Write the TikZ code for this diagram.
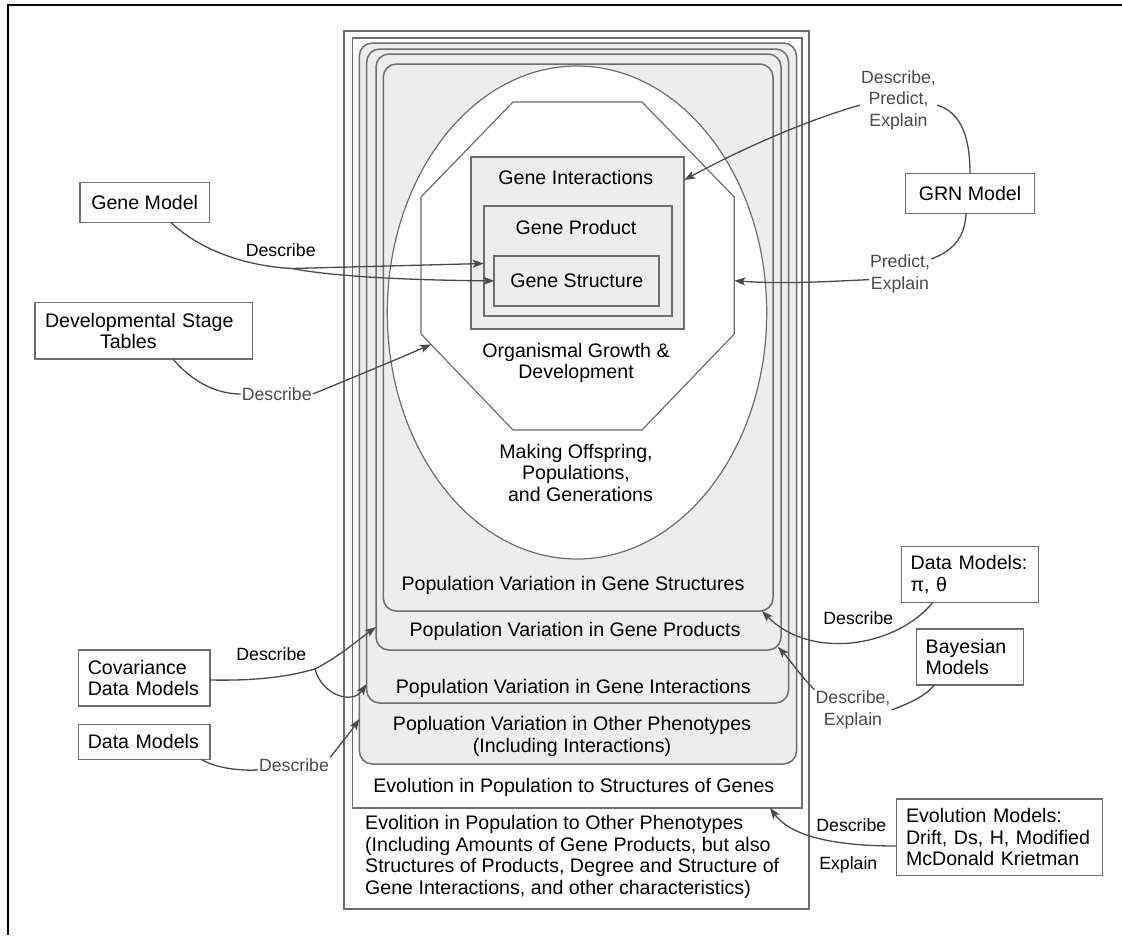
\documentclass[tikz,border=0pt]{standalone}
\usepackage{fontspec}
\setmainfont{Liberation Sans}
\usetikzlibrary{shapes.geometric,arrows.meta}
\definecolor{edge}{HTML}{6E6E6E}
\definecolor{shade}{HTML}{EDEDED}
\definecolor{wire}{HTML}{4A4A4A}
\definecolor{note}{HTML}{4A4A4A}
\tikzset{
  big/.style={font=\fontsize{19.6}{21.5}\selectfont},
  txt/.style={big, inner sep=0pt, anchor=base},
  shell/.style={draw=edge, line width=1.5pt, inner sep=0pt, outer sep=0pt, rectangle},
  roundshell/.style={shell, fill=shade, rounded corners=13pt},
  genebox/.style={draw=edge, line width=1.8pt, fill=shade, inner sep=0pt, outer sep=0pt},
  sbox/.style={draw=edge, line width=1.4pt, fill=white, big, inner sep=0pt, outer sep=0pt},
  onecap/.style={text height=14pt, text depth=0pt},
  lab/.style={font=\fontsize{17.7}{21.6}\selectfont, inner sep=1pt, anchor=base},
  labdark/.style={lab, text=black},
  labgray/.style={lab, text=note},
  wire/.style={draw=wire, line width=1.3pt},
  tip/.style={wire, -{Stealth[length=11pt,width=8pt,inset=2.5pt]}},
}
\begin{document}
\begin{tikzpicture}[x=1pt,y=-1pt]
\useasboundingbox (0,0) rectangle (1122,935);
\fill[white] (0,0) rectangle (1122,935);
% page frame
\draw[black, line width=2pt] (1122,5) -- (8,5) -- (8,935);

% nested containers
\node[shell, fill=white, minimum width=465pt, minimum height=878pt] (A) at (576.5,470) {};
\node[shell, fill=white, minimum width=449.5pt, minimum height=770pt] (B) at (577.25,423) {};
\node[roundshell, minimum width=437.2pt, minimum height=721pt] (C) at (577.9,403.5) {};
\node[roundshell, minimum width=421.8pt, minimum height=654pt] (D) at (577.6,376) {};
\node[roundshell, minimum width=405pt, minimum height=596pt] (E) at (578.5,352) {};
\node[roundshell, minimum width=389.7pt, minimum height=547pt] (F) at (578.15,337.5) {};

% organism
\node[ellipse, draw=edge, line width=1.2pt, fill=white, inner sep=0pt, outer sep=0pt,
      minimum width=379.4pt, minimum height=493pt] (life) at (577,312.5) {};
\draw[draw=edge, line width=1.2pt, fill=white]
  (513,102) -- (642,102) -- (734.3,197) -- (734.3,334) -- (642,430) -- (513,430) -- (421,334) -- (421,197) -- cycle;
\coordinate (oW) at (431,344.4);
\coordinate (oE) at (734.3,280.7);

% gene boxes
\node[genebox, minimum width=213.6pt, minimum height=171.7pt] (gi) at (577.5,243.2) {};
\node[genebox, minimum width=188pt, minimum height=109.7pt] (gp) at (577.7,260.9) {};
\node[genebox, big, onecap, minimum width=165pt, minimum height=49.7pt] (gs) at (576.8,280.9) {Gene Structure};

% texts (multi-line nodes sit on the baseline of their last line)
\node[txt] (tGI) at (575.8,184.3) {Gene Interactions};
\node[txt] (tGP) at (576,234.7) {Gene Product};
\node[txt, align=center] (tOG) at (576,378.7) {Organismal Growth \&\\Development};
\node[txt, align=center] (tMO) at (576,501.3) {Making Offspring,\\Populations,\\\hspace*{9pt}and Generations};
\node[txt] (tF) at (573,590.5) {Population Variation in Gene Structures};
\node[txt] (tE) at (575,636) {Population Variation in Gene Products};
\node[txt] (tD) at (573.3,693.7) {Population Variation in Gene Interactions};
\node[txt, align=center] (tC) at (572,752) {Popluation Variation in Other Phenotypes\\(Including Interactions)};
\node[txt] (tB) at (573.8,792.7) {Evolution in Population to Structures of Genes};
\node[txt, align=left, anchor=base west] (tA) at (365,894) {Evolition in Population to Other Phenotypes\\(Including Amounts of Gene Products, but also\\Structures of Products, Degree and Structure of\\Gene Interactions, and other characteristics)};

% model boxes
\node[sbox, onecap, minimum width=129.3pt, minimum height=40pt] (gm) at (144.7,202.7) {Gene Model};
\node[sbox, minimum width=217.7pt, minimum height=56.3pt, text width=197.7pt, align=left] (dst) at (143.85,330.85) {Developmental Stage\\\hspace*{55pt}Tables};
\node[sbox, onecap, minimum width=128.6pt, minimum height=40pt] (grn) at (970,193.3) {GRN Model};
\node[sbox, minimum width=136.6pt, minimum height=55.6pt, text width=118.6pt, align=left] (dmp) at (970,574.5) {Data Models:\\π, θ};
\node[sbox, minimum width=106.6pt, minimum height=56pt, text width=88.6pt, align=left] (bay) at (970,657) {Bayesian\\Models};
\node[sbox, minimum width=205.6pt, minimum height=76.7pt, text width=187pt, align=left] (evo) at (999.5,837.3) {Evolution Models:\\Drift, Ds, H, Modified\\McDonald Krietman};
\node[sbox, minimum width=131.7pt, minimum height=56pt, text width=112.9pt, align=left] (cov) at (144.2,678) {Covariance\\Data Models};
\node[sbox, onecap, minimum width=131.7pt, minimum height=35pt, text width=112.9pt, align=left] (dml) at (144.2,741.8) {Data Models};

% connector labels
\node[labdark] (l1) at (280.7,256.3) {Describe};
\node[labgray] (l2) at (276.7,400.3) {Describe};
\node[labgray, align=center] (l3) at (898.5,126.3) {Describe,\\Predict,\\Explain};
\node[labgray, align=center] (l4) at (900,289) {Predict,\\Explain};
\node[labdark] (l5) at (858.3,624.6) {Describe};
\node[labgray, align=center] (l6) at (853,725.3) {Describe,\\Explain};
\node[labdark] (l7a) at (851.3,831.3) {Describe};
\node[labdark] (l7b) at (848.3,869) {Explain};
\node[labdark] (l8) at (271.3,660.3) {Describe};
\node[labgray] (l9) at (294,771.3) {Describe};

% connectors
\coordinate (gmsplit) at (292,268.5);
\draw[wire] (gm.-37) .. controls (200,250) and (245,266) .. (gmsplit);
\draw[tip] (gmsplit) -- ([yshift=-2.6pt]gp.west);
\draw[tip] (gmsplit) .. controls (330,276) and (400,280) .. (gs.west);

\draw[wire] (dst.-44) .. controls (195,385) and (220,394) .. (l2.west);
\draw[tip] (l2.east) .. controls (340,383) and (400,358) .. (oW);

\draw[wire] (grn.north) .. controls (970,135) and (960,112) .. ([yshift=-5pt]l3.east);
\draw[tip] ([yshift=-5pt]l3.west) .. controls (800,122) and (730,155) .. ([yshift=63.2pt]gi.east);

\draw[wire] ([xshift=-4pt]grn.south) .. controls (965,240) and (950,252) .. (l4.25);
\draw[tip] ([yshift=-6pt]l4.west) .. controls (820,282) and (780,284) .. (oE);

\draw[tip] (dmp.217) .. controls (895,648) and (810,660) .. ([xshift=-11pt]F.south east);

\draw[wire] (bay.218) .. controls (925,697) and (905,705) .. (l6.east);
\draw[tip] (l6.north west) .. controls (800,675) and (790,660) .. ([xshift=-3pt,yshift=3pt]E.south east);

\draw[tip] ([yshift=-8.7pt]evo.west) .. controls (830,846) and (790,835) .. ([xshift=-32pt]B.south east);

\coordinate (covsplit) at (315,669);
\draw[wire] ([yshift=-2pt]cov.east) .. controls (260,681) and (290,676) .. (covsplit);
\draw[tip] (covsplit) .. controls (340,656) and (358,640) .. ([yshift=23pt]E.south west);
\draw[tip] (covsplit) .. controls (322,695) and (352,705) .. ([yshift=19pt]D.south west);

\draw[wire] (dml.-17) .. controls (215,768) and (240,771) .. ([yshift=-5pt]l9.west);
\draw[tip] (l9.north east) .. controls (340,745) and (352,730) .. ([yshift=45pt]C.south west);
\end{tikzpicture}
\end{document}
